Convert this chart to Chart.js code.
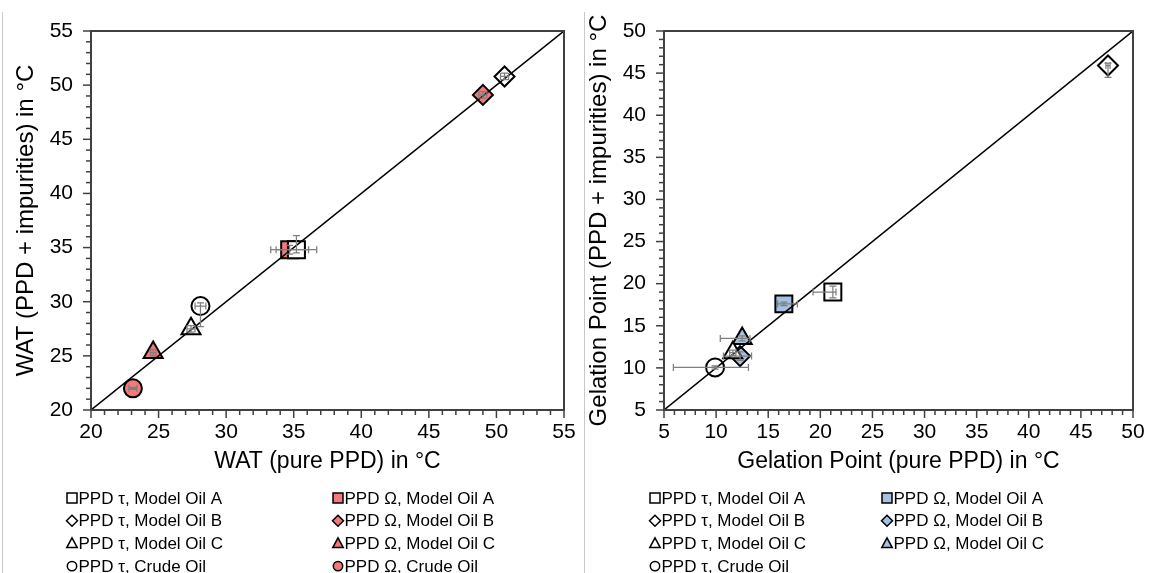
<!DOCTYPE html>
<html><head><meta charset="utf-8">
<script src="https://cdn.jsdelivr.net/npm/chart.js@4/dist/chart.umd.min.js"></script>
<style>
html,body{margin:0;padding:0;background:#fff;}
#wrap{position:relative;width:1156px;height:573px;overflow:hidden;background:#fff;}
.panel{position:absolute;top:0;height:573px;}
.sep{position:absolute;top:12px;bottom:0;width:1px;background:#c9c9c9;}
</style></head><body>
<div id="wrap">
<div class="sep" style="left:2px"></div>
<div class="sep" style="left:584px"></div>
<div class="panel" style="left:0;width:585px"><canvas id="c1" width="585" height="573"></canvas></div>
<div class="panel" style="left:585px;width:571px"><canvas id="c2" width="571" height="573"></canvas></div>
</div>
<script>
// ---------- data ----------
const oils = ['Model Oil A', 'Model Oil B', 'Model Oil C', 'Crude Oil'];
const ppdNames = ['PPD τ', 'PPD Ω'];

const watRange = [20, 55];
const gelRange = [5, 50];
const majorStep = 5;
const minorStep = 1;

const watXTitle = 'WAT (pure PPD) in °C';
const watYTitle = 'WAT (PPD + impurities) in °C';
const gelXTitle = 'Gelation Point (pure PPD) in °C';
const gelYTitle = 'Gelation Point (PPD + impurities) in °C';

// WAT: order A, B, C, Crude
const watTauX = [35.2, 50.6, 27.4, 28.1];
const watTauY = [34.8, 50.8, 27.5, 29.6];
const watTauErr = [[1.5, 1.5, 0.3, 1.3], [0.3, 0.3, 0.3, 0.3], [0.3, 0.3, 0.3, 0.3], [0.4, 0.4, 1.9, 0.3]];
const watOmegaX = [34.7, 49.0, 24.6, 23.1];
const watOmegaY = [34.8, 49.1, 25.3, 22.0];
const watOmegaErr = [[1.4, 1.4, 0.4, 0.4], [0.3, 0.3, 0.3, 0.3], [0.2, 0.2, 0.3, 0.3], [0.3, 0.3, 0.1, 0.1]];

// Gelation point: tau A, B, C, Crude; omega A, B, C
const gelTauX = [21.2, 47.6, 11.6, 9.9];
const gelTauY = [19.0, 45.9, 11.8, 10.05];
const gelTauErr = [[1.9, 0.3, 0.7, 0.7], [0.2, 0.2, 1.4, 0.3], [0.3, 0.3, 0.3, 0.3], [4.0, 3.2, 0.2, 0.2]];
const gelOmegaX = [16.5, 12.3, 12.5];
const gelOmegaY = [17.6, 11.4, 13.5];
const gelOmegaErr = [[0.6, 1.3, 0.2, 0.2], [1.6, 1.1, 0.5, 0.5], [2.1, 0.75, 0.3, 0.3]];

// ---------- styles ----------
const FONT = "'Liberation Sans', Arial, Helvetica, sans-serif";
const markerStyles = ['rect', 'rectRot', 'triangle', 'circle'];
const markerRadius = [12, 10, 11, 9];
const legendRadius = [5, 5.5, 5.5, 4.7];
const RED = 'rgb(243,122,122)';
const BLUE = 'rgb(166,192,226)';
const AXIS = '#404040';

function makeSets(xs, ys, errs, fill, ppdIdx) {
  return xs.map((x, i) => ({
    type: 'scatter',
    label: ppdNames[ppdIdx] + ', ' + oils[i],
    data: [{x: x, y: ys[i]}],
    errors: [errs[i]],
    pointStyle: markerStyles[i],
    pointRadius: markerRadius[i],
    pointHoverRadius: markerRadius[i],
    pointBackgroundColor: fill,
    pointBorderColor: '#000',
    pointBorderWidth: 2,
    legendCol: ppdIdx,
    legendRow: i,
    legendR: legendRadius[i],
    order: 1,
    clip: false
  }));
}

function diagSet(range) {
  return {
    type: 'line',
    label: '',
    data: [{x: range[0], y: range[0]}, {x: range[1], y: range[1]}],
    borderColor: '#000',
    borderWidth: 1.5,
    pointRadius: 0,
    order: 0,
    isDiag: true
  };
}

function drawShape(ctx, style, x, y, r) {
  ctx.beginPath();
  if (style === 'rect') {
    ctx.rect(x - r, y - r, 2 * r, 2 * r);
  } else if (style === 'rectRot') {
    ctx.moveTo(x, y - r); ctx.lineTo(x + r, y); ctx.lineTo(x, y + r); ctx.lineTo(x - r, y); ctx.closePath();
  } else if (style === 'triangle') {
    ctx.moveTo(x, y - r); ctx.lineTo(x + r * 0.95, y + r * 0.75); ctx.lineTo(x - r * 0.95, y + r * 0.75); ctx.closePath();
  } else {
    ctx.arc(x, y, r, 0, Math.PI * 2);
  }
}

const errorBars = {
  id: 'errorBars',
  afterDatasetsDraw(chart) {
    const {ctx, scales: {x: xs, y: ys}} = chart;
    ctx.save();
    ctx.strokeStyle = '#7f7f7f';
    ctx.lineWidth = 1.25;
    const cap = 3.5;
    chart.data.datasets.forEach(ds => {
      if (!ds.errors) return;
      ds.data.forEach((p, j) => {
        const e = ds.errors[j];
        const px = xs.getPixelForValue(p.x), py = ys.getPixelForValue(p.y);
        const xl = xs.getPixelForValue(p.x - e[0]), xr = xs.getPixelForValue(p.x + e[1]);
        const yl = ys.getPixelForValue(p.y - e[2]), yh = ys.getPixelForValue(p.y + e[3]);
        ctx.beginPath();
        ctx.moveTo(xl, py); ctx.lineTo(xr, py);
        ctx.moveTo(xl, py - cap); ctx.lineTo(xl, py + cap);
        ctx.moveTo(xr, py - cap); ctx.lineTo(xr, py + cap);
        ctx.moveTo(px, yl); ctx.lineTo(px, yh);
        ctx.moveTo(px - cap, yl); ctx.lineTo(px + cap, yl);
        ctx.moveTo(px - cap, yh); ctx.lineTo(px + cap, yh);
        ctx.stroke();
      });
    });
    ctx.restore();
  }
};

const frameTicks = {
  id: 'frameTicks',
  afterDraw(chart) {
    const {ctx, chartArea: a, scales: {x, y}} = chart;
    ctx.save();
    ctx.strokeStyle = AXIS;
    ctx.lineWidth = 1.5;
    for (let v = x.min; v <= x.max + 1e-9; v += minorStep) {
      const px = x.getPixelForValue(v);
      const len = Math.abs(Math.round(v) % majorStep) === 0 ? 8 : 5;
      ctx.beginPath(); ctx.moveTo(px, a.bottom); ctx.lineTo(px, a.bottom + len); ctx.stroke();
    }
    for (let v = y.min; v <= y.max + 1e-9; v += minorStep) {
      const py = y.getPixelForValue(v);
      const len = Math.abs(Math.round(v) % majorStep) === 0 ? 8 : 5;
      ctx.beginPath(); ctx.moveTo(a.left, py); ctx.lineTo(a.left - len, py); ctx.stroke();
    }
    ctx.lineWidth = 2;
    ctx.strokeRect(a.left, a.top, a.right - a.left, a.bottom - a.top);
    ctx.restore();
  }
};

const gridLegend = {
  id: 'gridLegend',
  afterDraw(chart, args, opts) {
    const {ctx} = chart;
    ctx.save();
    ctx.font = '17px ' + FONT;
    ctx.textBaseline = 'middle';
    ctx.textAlign = 'left';
    chart.data.datasets.forEach(ds => {
      if (ds.isDiag) return;
      const mx = opts.cols[ds.legendCol];
      const my = opts.rowTop + ds.legendRow * opts.rowStep;
      drawShape(ctx, ds.pointStyle, mx, my, ds.legendR);
      ctx.fillStyle = ds.pointBackgroundColor;
      ctx.fill();
      ctx.lineWidth = 1.5;
      ctx.strokeStyle = '#000';
      ctx.stroke();
      ctx.fillStyle = '#000';
      ctx.fillText(ds.label, mx + 6.5, my + 1);
    });
    ctx.restore();
  }
};

function makeChart(id, range, xTitle, yTitle, sets, pad, legendCols) {
  return new Chart(document.getElementById(id), {
    data: {datasets: sets},
    options: {
      responsive: false,
      devicePixelRatio: 1,
      animation: false,
      events: [],
      layout: {padding: pad},
      plugins: {
        legend: {display: false},
        tooltip: {enabled: false},
        gridLegend: {cols: legendCols, rowTop: 498, rowStep: 22.7}
      },
      scales: {
        x: {
          type: 'linear', position: 'bottom', min: range[0], max: range[1],
          afterFit(s) { s.height = 65; },
          grid: {display: false, drawTicks: true, tickLength: 8},
          border: {display: false},
          ticks: {stepSize: majorStep, color: '#000', font: {family: FONT, size: 21}, padding: 2, maxRotation: 0, autoSkip: false},
          title: {display: true, text: xTitle, color: '#000', font: {family: FONT, size: 23}, padding: 0}
        },
        y: {
          type: 'linear', position: 'left', min: range[0], max: range[1],
          afterFit(s) { s.width = 79; },
          grid: {display: false, drawTicks: true, tickLength: 8},
          border: {display: false},
          ticks: {stepSize: majorStep, color: '#000', font: {family: FONT, size: 21}, padding: 10, autoSkip: false},
          title: {display: true, text: yTitle, color: '#000', font: {family: FONT, size: 24}, padding: 0}
        }
      }
    },
    plugins: [errorBars, frameTicks, gridLegend]
  });
}

const leftSets = [diagSet(watRange)]
  .concat(makeSets(watTauX, watTauY, watTauErr, '#ffffff', 0))
  .concat(makeSets(watOmegaX, watOmegaY, watOmegaErr, RED, 1));
const rightSets = [diagSet(gelRange)]
  .concat(makeSets(gelTauX, gelTauY, gelTauErr, '#ffffff', 0))
  .concat(makeSets(gelOmegaX, gelOmegaY, gelOmegaErr, BLUE, 1));

makeChart('c1', watRange, watXTitle, watYTitle, leftSets, {left: 12, right: 21, top: 31, bottom: 98}, [72, 338]);
makeChart('c2', gelRange, gelXTitle, gelYTitle, rightSets, {left: 0, right: 23, top: 31, bottom: 98}, [70, 302]);
</script>
</body></html>
